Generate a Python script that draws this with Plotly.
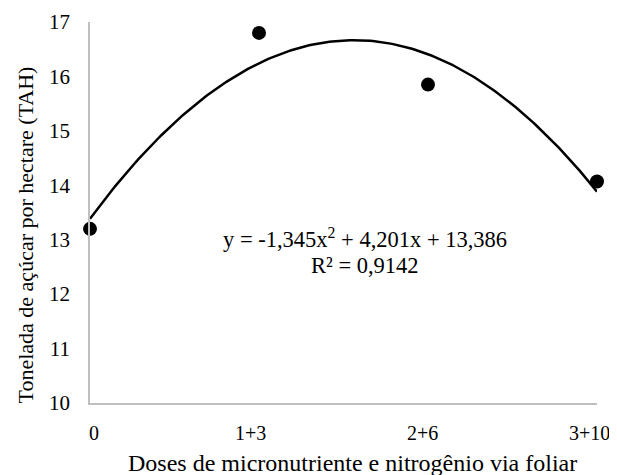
import numpy as np
import plotly.graph_objects as go

categories = ["0", "1+3", "2+6", "3+10"]
x_pos = [0, 1, 2, 3]
tah = [13.2, 16.8, 15.85, 14.07]
coef_a, coef_b, coef_c = -1.345, 4.201, 13.386
y_ticks = [10, 11, 12, 13, 14, 15, 16, 17]
x_title = "Doses de micronutriente e nitrogênio via foliar"
y_title = "Tonelada de açúcar por hectare (TAH)"
label_shift = [4, -9, -6, -8]  # horizontal nudge of category labels (px)

xs = np.linspace(0, 3, 200)
ys = coef_a * xs**2 + coef_b * xs + coef_c

font = "Liberation Serif, Times New Roman, serif"

fig = go.Figure()
fig.add_trace(go.Scatter(x=xs, y=ys, mode="lines",
                         line=dict(color="black", width=2.5),
                         hoverinfo="skip", showlegend=False, cliponaxis=False))
fig.add_trace(go.Scatter(x=x_pos, y=tah, mode="markers",
                         marker=dict(color="black", size=14),
                         showlegend=False, cliponaxis=False))

fig.add_annotation(x=0.543, y=0.433, xref="paper", yref="paper",
                   text="y = -1,345x<sup>2</sup> + 4,201x + 13,386",
                   showarrow=False, font=dict(family=font, size=22.5, color="black"))
fig.add_annotation(x=0.543, y=0.362, xref="paper", yref="paper",
                   text="R² = 0,9142",
                   showarrow=False, font=dict(family=font, size=22.5, color="black"))

# category labels along the x axis
for xv, lab, sh in zip(x_pos, categories, label_shift):
    fig.add_annotation(x=xv, y=0, xref="x", yref="paper", text=lab,
                       showarrow=False, xanchor="center", yanchor="middle",
                       xshift=sh, yshift=-30,
                       font=dict(family=font, size=20, color="black"))

# axis titles
fig.add_annotation(x=0.517, y=-0.157, xref="paper", yref="paper",
                   text=x_title, showarrow=False, yanchor="middle",
                   font=dict(family=font, size=24, color="black"))
fig.add_annotation(x=-0.128, y=0.44, xref="paper", yref="paper",
                   text=y_title, showarrow=False, textangle=-90,
                   xanchor="center", yanchor="middle",
                   font=dict(family=font, size=22, color="black"))

# the page body adds an 8px offset, so the figure is sized to fit the window
fig.update_layout(
    width=609, height=467,
    margin=dict(l=82, r=20, t=14, b=72, autoexpand=False),
    plot_bgcolor="white", paper_bgcolor="white",
    font=dict(family=font, size=20, color="black"),
    xaxis=dict(range=[0, 3], tickvals=x_pos, ticktext=categories,
               showticklabels=False,
               showgrid=False, zeroline=False, showline=True,
               linecolor="#bfbfbf", linewidth=1.5, ticks="",
               automargin=False),
    yaxis=dict(range=[10, 17], tickvals=y_ticks,
               showgrid=False, zeroline=False, showline=True,
               linecolor="#bfbfbf", linewidth=1.5, ticks="",
               ticklabelstandoff=14, tickfont=dict(size=21),
               ticklabeloverflow="allow", automargin=False),
)

fig.write_html("out.html")
